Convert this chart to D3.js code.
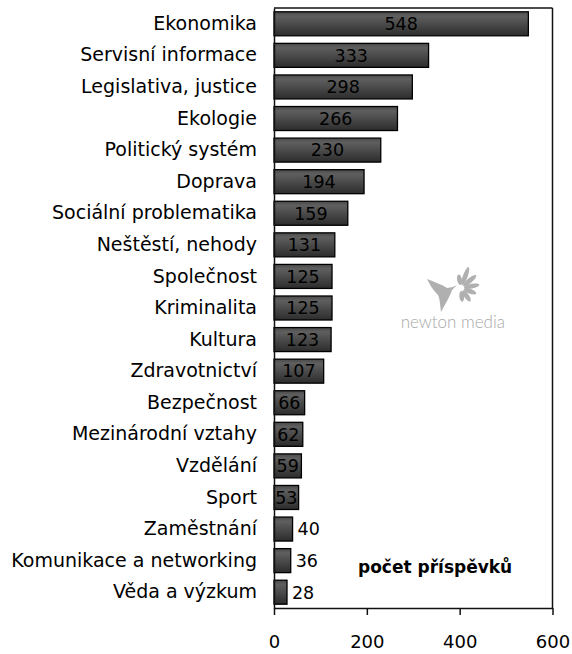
<!DOCTYPE html>
<html><head><meta charset="utf-8">
<script src="https://cdn.jsdelivr.net/npm/d3@7"></script>
<style>html,body{margin:0;padding:0;background:#fff;}svg{display:block;}</style>
</head><body>
<script>
const categories = ["Ekonomika","Servisní informace","Legislativa, justice","Ekologie","Politický systém","Doprava","Sociální problematika","Neštěstí, nehody","Společnost","Kriminalita","Kultura","Zdravotnictví","Bezpečnost","Mezinárodní vztahy","Vzdělání","Sport","Zaměstnání","Komunikace a networking","Věda a výzkum"];
const values = [548,333,298,266,230,194,159,131,125,125,123,107,66,62,59,53,40,36,28];
const tickValues = [0,200,400,600];
const axisTitle = "počet příspěvků";
const watermark = "newton media";

const W = 572, H = 654;
const m = {left: 274, right: 552.5, top: 8, bottom: 608};
const svg = d3.select("body").append("svg").attr("width", W).attr("height", H);

const defs = svg.append("defs");
const g = defs.append("linearGradient").attr("id","barg").attr("x1",0).attr("y1",0).attr("x2",0).attr("y2",1);
g.append("stop").attr("offset","0%").attr("stop-color","#4a4a4a");
g.append("stop").attr("offset","18%").attr("stop-color","#5f5f5f");
g.append("stop").attr("offset","100%").attr("stop-color","#2c2c2c");

const x = d3.scaleLinear().domain([0,600]).range([m.left, m.right]);
const y = d3.scaleBand().domain(categories).range([m.top, m.bottom]).paddingInner(0.24).paddingOuter(0.12);

// watermark
const wm = svg.append("g").attr("fill","#b0b0b0");
wm.append("path").attr("d","M427,279 C434,282 441,284 447,288 L453,287 L457,285 L452,290 C450,296 446,303 441,312 C440,305 440,299 438,295 C433,290 430,285 427,279 Z");
const cx = 461, cy = 288;
[[-70,16],[-40,14],[-10,13],[20,11],[55,11],[-100,9],[85,9]].forEach(([a,len])=>{
  const ex = cx + Math.cos(a*Math.PI/180)*(len*0.6+3), ey = cy + Math.sin(a*Math.PI/180)*(len*0.6+3);
  wm.append("ellipse").attr("cx",ex).attr("cy",ey).attr("rx",len*0.6).attr("ry",2.4).attr("transform",`rotate(${a},${ex},${ey})`);
});
wm.append("text").attr("x",505).attr("y",328).attr("text-anchor","end")
  .attr("font-family","Lato, 'Open Sans', sans-serif").attr("font-weight",300).attr("font-size",17).attr("fill","#a8a8a8").text(watermark);

// frame top & right
svg.append("line").attr("x1",m.left).attr("x2",m.right).attr("y1",m.top).attr("y2",m.top).attr("stroke","#111").attr("stroke-width",1.5);
svg.append("line").attr("x1",m.right).attr("x2",m.right).attr("y1",m.top).attr("y2",m.bottom).attr("stroke","#111").attr("stroke-width",1.5);

// bars
svg.append("g").selectAll("rect").data(values).join("rect")
  .attr("x", x(0)).attr("y",(d,i)=>y(categories[i]))
  .attr("width", d=>x(d)-x(0)).attr("height", y.bandwidth())
  .attr("fill","url(#barg)").attr("stroke","#000").attr("stroke-width",1.3);

// value labels
svg.append("g").selectAll("text").data(values).join("text")
  .attr("x", d => d >= 50 ? (x(0)+x(d))/2 : x(d)+5)
  .attr("y",(d,i)=>y(categories[i])+y.bandwidth()/2)
  .attr("dy","0.36em")
  .attr("text-anchor", d => d >= 50 ? "middle" : "start")
  .attr("font-family","'DejaVu Sans', sans-serif").attr("font-size",17.5).attr("fill","#000")
  .text(d=>d);

// y axis
const ya = svg.append("g").attr("transform",`translate(${m.left},0)`)
  .call(d3.axisLeft(y).tickSize(0).tickPadding(17));
ya.select(".domain").attr("stroke","#111").attr("stroke-width",1.5);
ya.selectAll("text").attr("font-family","'DejaVu Sans', sans-serif").attr("font-size",19).attr("fill","#000");

// x axis
const xa = svg.append("g").attr("transform",`translate(0,${m.bottom})`)
  .call(d3.axisBottom(x).tickValues(tickValues).tickSize(7).tickPadding(20).tickSizeOuter(0));
xa.select(".domain").attr("stroke","#111").attr("stroke-width",1.5);
xa.selectAll(".tick line").attr("stroke","#111").attr("stroke-width",1.5);
xa.selectAll("text").attr("font-family","'DejaVu Sans', sans-serif").attr("font-size",18).attr("fill","#000");

// axis title
svg.append("text").attr("x",358).attr("y",573)
  .attr("font-family","'DejaVu Sans', sans-serif").attr("font-weight","bold").attr("font-size",17)
  .attr("fill","#000").text(axisTitle);
</script>
</body></html>
